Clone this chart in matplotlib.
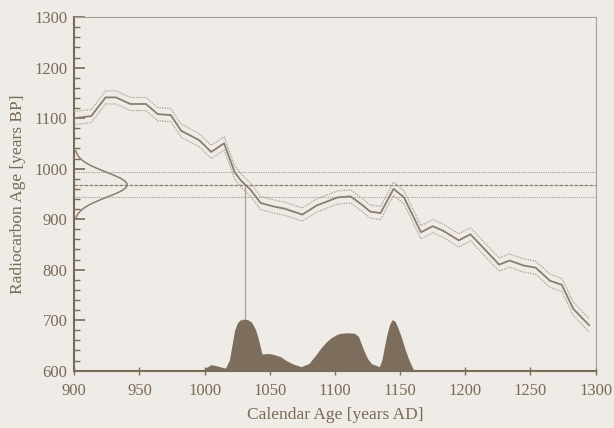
import numpy as np
import matplotlib
matplotlib.use("Agg")
import matplotlib.pyplot as plt
from matplotlib.ticker import MultipleLocator

# calibration curve (calendar years AD, radiocarbon years BP)
cal_years = [900, 913, 924, 932, 943, 955, 964, 974, 982, 988, 996, 1005, 1015,
             1023, 1028, 1035, 1043, 1053, 1061, 1075, 1086, 1102, 1112, 1120,
             1127, 1135, 1145, 1153, 1166, 1175, 1183, 1195, 1204, 1226, 1234,
             1245, 1254, 1265, 1274, 1283, 1295]
c14_ages = [1100, 1104, 1141, 1141, 1128, 1128, 1108, 1106, 1075, 1067, 1056,
            1033, 1050, 993, 976, 959, 932, 925, 921, 909, 927, 943, 945, 930,
            915, 912, 960, 943, 874, 886, 877, 858, 870, 810, 818, 808, 804,
            778, 770, 722, 690]
curve_err = 13

# measured sample
sample_age = 968
sample_sigma = 25
intercept_year = 1031

# calibrated probability distribution (drawn as height above 600 BP)
prob_years = [998, 1001, 1005, 1010, 1016, 1019, 1021, 1023, 1025, 1027, 1030,
              1033, 1036, 1039, 1041, 1044, 1049, 1053, 1058, 1062, 1068, 1074,
              1080, 1085, 1089, 1093, 1097, 1101, 1104, 1110, 1115, 1118, 1122,
              1125, 1128, 1134, 1136, 1138, 1140, 1142, 1144, 1146, 1148, 1151,
              1154, 1157, 1160, 1162]
prob_top = [600, 606, 612, 609, 605, 621, 650, 680, 694, 700, 702, 701, 696,
            682, 665, 633, 634, 632, 628, 621, 613, 608, 614, 630, 644, 656,
            665, 671, 674, 675, 674, 668, 641, 624, 614, 608, 621, 648, 673,
            692, 701, 698, 687, 666, 641, 620, 603, 600]

INK = "#7a6a58"
LINE = "#8a7d70"
BAND = "#aaa096"
FILL = "#7d6d5c"
BG = "#efebe6"

plt.rcParams["font.family"] = ["Liberation Serif", "DejaVu Serif"]

fig = plt.figure(figsize=(6.14, 4.28), dpi=100, facecolor=BG)
ax = fig.add_axes([0.121, 0.134, 0.849, 0.826], facecolor=BG)

cal = np.array(cal_years)
c14 = np.array(c14_ages)

# calibration curve with error band
ax.plot(cal, c14, color=LINE, lw=1.3, zorder=3)
ax.plot(cal, c14 + curve_err, color=BAND, lw=0.9, ls=(0, (1, 1)), zorder=3)
ax.plot(cal, c14 - curve_err, color=BAND, lw=0.9, ls=(0, (1, 1)), zorder=3)

# sample age and 1-sigma lines
ax.axhline(sample_age, color=LINE, lw=0.9, ls=(0, (3, 1)), zorder=2)
ax.axhline(sample_age + sample_sigma, color=BAND, lw=0.8, ls=(0, (1, 1)), zorder=2)
ax.axhline(sample_age - sample_sigma, color=BAND, lw=0.8, ls=(0, (1, 1)), zorder=2)

# gaussian of the measured age on the left axis
g_age = np.linspace(sample_age - 2.7 * sample_sigma, sample_age + 2.7 * sample_sigma, 200)
g_val = 900 + 40.5 * np.exp(-0.5 * ((g_age - sample_age) / sample_sigma) ** 2)
ax.plot(g_val, g_age, color=LINE, lw=1.1, zorder=3)

# intercept line
ax.plot([intercept_year, intercept_year], [600, sample_age], color=BAND, lw=0.9, zorder=2)

# calibrated distribution
ax.fill_between(prob_years, 600, prob_top, color=FILL, lw=0, zorder=4)

ax.set_xlim(900, 1300)
ax.set_ylim(600, 1300)
ax.xaxis.set_major_locator(MultipleLocator(50))
ax.yaxis.set_major_locator(MultipleLocator(100))
ax.yaxis.set_minor_locator(MultipleLocator(20))

ax.tick_params(axis="y", which="major", direction="in", length=8, width=1.2, colors=INK,
               labelsize=12, labelcolor=INK, pad=5)
ax.tick_params(axis="y", which="minor", direction="in", length=4, width=1.0, colors=INK)
ax.tick_params(axis="x", which="major", direction="inout", length=6, width=1.0, colors=INK,
               labelsize=12, labelcolor=INK, pad=6)

for side in ("left", "bottom"):
    ax.spines[side].set_color(INK)
    ax.spines[side].set_linewidth(1.5)
for side in ("top", "right"):
    ax.spines[side].set_color(BAND)
    ax.spines[side].set_linewidth(0.8)
    ax.spines[side].set_linestyle((0, (2, 1)))

ax.set_xlabel("Calendar Age [years AD]", fontsize=12.5, color=INK, labelpad=6)
ax.set_ylabel("Radiocarbon Age [years BP]", fontsize=12.5, color=INK, labelpad=6)

fig.savefig("out.png", dpi=100, facecolor=BG)
